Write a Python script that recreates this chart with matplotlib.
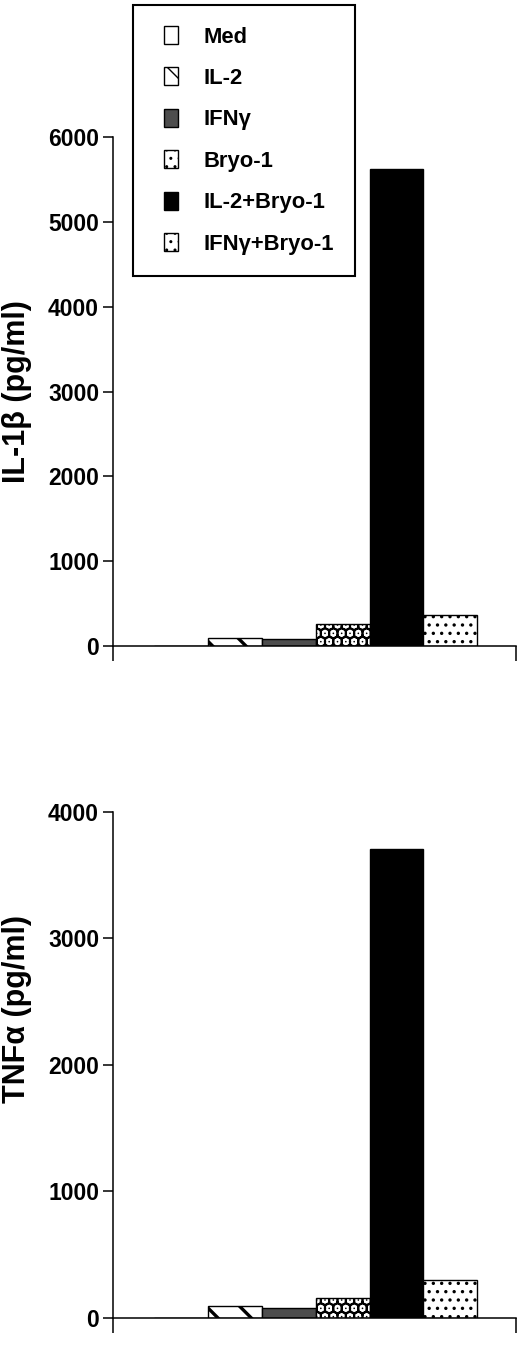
import matplotlib
matplotlib.use("Agg")
import matplotlib.pyplot as plt
from matplotlib.patches import Rectangle
from matplotlib.legend_handler import HandlerPatch

# data
categories = ["Med", "IL-2", "IFNγ", "Bryo-1", "IL-2+Bryo-1", "IFNγ+Bryo-1"]
il1b = [0, 100, 80, 260, 5625, 360]
tnfa = [0, 95, 80, 160, 3710, 300]
il1b_ticks = [0, 1000, 2000, 3000, 4000, 5000, 6000]
tnfa_ticks = [0, 1000, 2000, 3000, 4000]

# fill style per treatment: facecolor, hatch, hatch linewidth
styles = [
    ("white", "", 1.0),
    ("white", "\\", 2.4),
    ("#4d4d4d", "", 1.0),
    ("white", "..", 6.5),
    ("black", "", 1.0),
    ("white", "..", 1.2),
]

FONT = ["Liberation Sans", "DejaVu Sans"]

fig = plt.figure(figsize=(5.2, 13.45), dpi=100)
ax1 = fig.add_axes([0.2173, 0.5197, 0.775, 0.3784])
ax2 = fig.add_axes([0.2173, 0.0201, 0.775, 0.3762])

xl, xr = -1.27, 6.22


def draw_panel(ax, values, ticks, label, label_y):
    bars = []
    for i, (cat, v) in enumerate(zip(categories, values)):
        fc, hatch, hlw = styles[i]
        with plt.rc_context({"hatch.linewidth": hlw}):
            b = ax.bar(i, v, width=1.0, color=fc, edgecolor="black",
                       linewidth=1.0, hatch=hatch, label=cat)
        bars.append(b[0])
    ax.set_xlim(xl, xr)
    ax.set_ylim(0, ticks[-1])
    ax.set_yticks(ticks)
    ax.set_xticks([xl, xr])
    ax.set_xticklabels([])
    for s in ["top", "right"]:
        ax.spines[s].set_visible(False)
    for s in ["left", "bottom"]:
        ax.spines[s].set_linewidth(1.1)
    ax.tick_params(axis="y", direction="out", length=7, width=1.1, pad=3)
    ax.tick_params(axis="x", direction="out", length=11, width=1.1)
    for t in ax.get_yticklabels():
        t.set_family(FONT)
        t.set_fontweight("bold")
        t.set_fontsize(16.5)
    ax.set_ylabel(label, family=FONT, fontweight="bold", fontsize=22)
    ax.yaxis.set_label_coords(-0.20, label_y)
    return bars


bars = draw_panel(ax1, il1b, il1b_ticks, "IL-1β (pg/ml)", 0.5)
draw_panel(ax2, tnfa, tnfa_ticks, "TNFα (pg/ml)", 0.61)


def narrow_rect(legend, orig_handle, xdescent, ydescent, width, height, fontsize):
    w = 10
    return Rectangle((width - w - xdescent, -ydescent), w, height)


leg = ax1.legend(handles=bars, labels=categories, loc="upper left",
                 bbox_to_anchor=(133 / 520, 1 - 5 / 1345),
                 bbox_transform=fig.transFigure,
                 prop={"family": FONT, "weight": "bold", "size": 15.8},
                 handlelength=1.1, handleheight=0.9, handletextpad=1.18,
                 labelspacing=0.9, borderpad=0.95, borderaxespad=0,
                 fancybox=False, frameon=True, framealpha=1,
                 handler_map={Rectangle: HandlerPatch(patch_func=narrow_rect)})
leg.get_frame().set_edgecolor("black")
leg.get_frame().set_linewidth(1.5)

fig.savefig("out.png", dpi=100)
